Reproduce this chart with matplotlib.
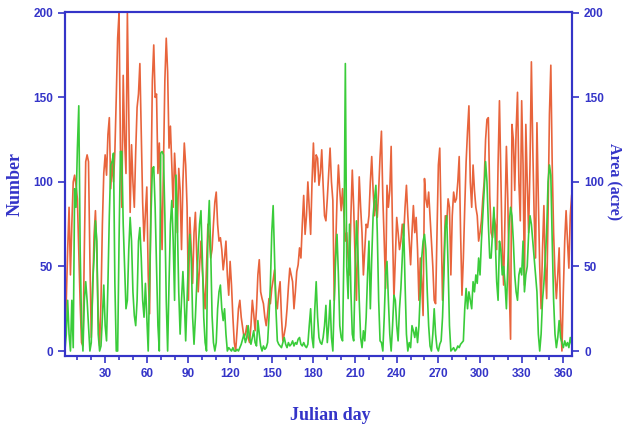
"""
Daily fire counts and burned area by Julian day.
"""

import matplotlib

matplotlib.use("Agg")
import matplotlib.pyplot as plt
from matplotlib.ticker import MultipleLocator

AXIS_BLUE = "#3434c8"
ORANGE = "#e8643c"
GREEN = "#3acc3a"

# one value per Julian day
NUMBER = [
    5, 30, 60, 85, 45, 75, 100, 104, 98, 90,
    60, 28, 5, 3, 60, 112, 116, 112, 55, 8,
    35, 68, 83, 58, 20, 3, 30, 75, 105, 116,
    104, 128, 138, 96, 112, 100, 118, 150, 185, 200,
    120, 85, 163, 125, 105, 200, 140, 82, 122, 100,
    85, 118, 144, 152, 170, 130, 88, 65, 82, 97,
    45, 22, 95, 160, 181, 150, 152, 105, 123, 90,
    60, 110, 160, 185, 165, 120, 133, 110, 85, 117,
    100, 70, 108, 95, 60, 100, 123, 110, 85, 30,
    79, 60, 40, 70, 82, 55, 35, 50, 65, 48,
    35, 25, 50, 75, 67, 55, 60, 75, 88, 94,
    75, 65, 67, 60, 48, 55, 65, 45, 33, 53,
    39, 20, 5, 0, 12, 25, 30, 20, 14, 8,
    10, 15, 8, 5, 15, 30, 22, 12, 25, 45,
    54, 35, 31, 28, 20, 15, 22, 31, 28, 37,
    42, 48, 30, 25, 35, 41, 20, 6, 10, 15,
    25, 38, 49, 45, 41, 25, 35, 47, 51, 61,
    55, 75, 92, 69, 80, 100, 85, 69, 100, 123,
    100, 116, 114, 98, 105, 119, 98, 80, 77, 90,
    105, 120, 100, 89, 30, 60, 90, 110, 95, 83,
    96, 80, 65, 70, 55, 45, 80, 107, 85, 55,
    30, 70, 103, 85, 70, 45, 60, 75, 73, 80,
    100, 115, 95, 80, 89, 79, 95, 115, 130, 90,
    65, 37, 98, 85, 95, 121, 70, 31, 55, 79,
    70, 60, 65, 75, 68, 85, 98, 80, 65, 51,
    70, 86, 70, 79, 60, 30, 55, 40, 21, 102,
    90, 85, 94, 80, 65, 50, 30, 28, 70, 110,
    120, 75, 30, 55, 80, 75, 90, 85, 45, 80,
    94, 88, 90, 100, 115, 70, 33, 55, 85, 112,
    130, 145, 100, 85, 110, 95, 85, 80, 65, 70,
    77, 90, 100, 125, 137, 138, 92, 70, 67, 80,
    75, 60, 110, 148, 105, 60, 39, 80, 121, 90,
    40, 7, 134, 125, 95, 130, 153, 100, 77, 148,
    110, 39, 134, 100, 70, 110, 171, 120, 80, 55,
    135, 90, 50, 25, 60, 86, 50, 31, 80, 140,
    169, 110, 70, 45, 31, 45, 61, 20, 0, 35,
    65, 83, 65, 49, 80, 92,
]

AREA = [
    0, 10, 30, 10, 0, 30, 2, 96, 85, 120,
    145, 60, 15, 0, 30, 41, 30, 15, 0, 5,
    40, 55, 77, 65, 10, 0, 3, 20, 39, 15,
    6, 40, 80, 110, 112, 117, 40, 0, 0, 65,
    118, 118, 75, 49, 25, 30, 60, 79, 65, 35,
    21, 15, 30, 65, 73, 55, 30, 20, 40, 20,
    0, 40, 80, 108, 109, 85, 49, 15, 0, 117,
    118, 116, 80, 30, 0, 40, 75, 89, 65, 30,
    104, 75, 35, 10, 30, 47, 30, 6, 30, 55,
    69, 55, 20, 4, 20, 40, 60, 75, 83, 55,
    20, 5, 0, 70, 89, 60, 21, 5, 0, 5,
    25, 35, 39, 25, 18, 25, 10, 0, 2, 1,
    0, 2, 0, 0, 1, 0, 2, 4, 7, 10,
    5, 8, 15, 8, 4, 8, 12, 5, 3, 18,
    10, 3, 0, 3, 1, 2, 5, 20, 39, 70,
    86, 55, 25, 6, 4, 3, 2, 5, 8, 4,
    2, 5, 3, 4, 6, 3, 5, 4, 7, 8,
    4, 3, 5, 3, 2, 4, 15, 25, 8, 2,
    25, 41, 20, 8, 5, 4, 8, 15, 27, 5,
    15, 30, 8, 0, 30, 55, 69, 45, 15, 8,
    6, 60, 170, 50, 31, 75, 35, 10, 6, 45,
    77, 60, 30, 8, 2, 12, 6, 20, 45, 65,
    25, 55, 80, 90, 98, 70, 30, 6, 5, 0,
    20, 45, 53, 30, 10, 0, 15, 33, 30, 15,
    6, 25, 37, 55, 75, 40, 10, 0, 5, 2,
    15, 12, 8, 14, 5, 15, 35, 55, 65, 69,
    60, 35, 15, 3, 0, 10, 25, 10, 2, 0,
    4, 6, 20, 45, 73, 80, 50, 15, 0, 1,
    2, 0, 1, 3, 2, 4, 5, 6, 25, 37,
    25, 35, 30, 25, 41, 35, 45, 40, 55, 45,
    65, 80, 95, 112, 100, 75, 55, 55, 70, 85,
    65, 41, 30, 65, 60, 45, 50, 40, 25, 50,
    75, 85, 80, 65, 45, 35, 30, 45, 49, 45,
    65, 35, 45, 50, 69, 80, 75, 65, 55, 45,
    35, 10, 0, 10, 30, 40, 55, 70, 100, 110,
    104, 65, 30, 10, 2, 8, 18, 8, 5, 2,
    6, 3, 5, 2, 8, 4,
]

DAYS = list(range(1, len(NUMBER) + 1))
X_TICKS = list(range(30, 361, 30))
Y_TICKS = [0, 50, 100, 150, 200]


def style_axis(ax, side):
    for spine in ax.spines.values():
        spine.set_color(AXIS_BLUE)
        spine.set_linewidth(1.5)
    ax.tick_params(axis="both", which="both", direction="out",
                   colors=AXIS_BLUE, width=1.2)
    ax.tick_params(axis="both", which="major", length=5)
    ax.tick_params(axis="both", which="minor", length=3)
    ax.tick_params(axis="y", labelleft=(side == "left"),
                   left=(side == "left"), right=(side == "right"),
                   labelright=(side == "right"))
    for lab in ax.get_xticklabels() + ax.get_yticklabels():
        lab.set_fontweight("bold")
        lab.set_fontsize(8.5)
        lab.set_color(AXIS_BLUE)


def main():
    plt.rcParams["font.family"] = ["Liberation Sans", "DejaVu Sans"]
    fig = plt.figure(figsize=(6.24, 4.28), dpi=100)
    ax = fig.add_axes([0.104, 0.168, 0.813, 0.804])

    ax.plot(DAYS, NUMBER, color=ORANGE, lw=1.2)
    ax.set_xlim(1, 366.4)
    ax.set_ylim(-3, 200.5)
    ax.set_xticks(X_TICKS)
    ax.xaxis.set_minor_locator(MultipleLocator(10))
    ax.set_yticks(Y_TICKS)

    ax2 = ax.twinx()
    ax2.plot(DAYS, AREA, color=GREEN, lw=1.2)
    ax2.set_ylim(-3, 200.5)
    ax2.set_yticks(Y_TICKS)

    style_axis(ax, "left")
    style_axis(ax2, "right")
    ax.tick_params(axis="y", right=False)
    ax2.tick_params(axis="x", bottom=False, labelbottom=False)

    label_kw = dict(color=AXIS_BLUE, fontweight="bold", fontsize=13,
                    family=["Liberation Serif", "DejaVu Serif"])
    fig.text(0.53, 0.03, "Julian day", ha="center", va="center", **label_kw)
    fig.text(0.025, 0.57, "Number", rotation=90, ha="center", va="center",
             **label_kw)
    label_kw["fontsize"] = 11.5
    fig.text(0.984, 0.575, "Area (acre)", rotation=270, ha="center",
             va="center", **label_kw)

    fig.savefig("out.png", dpi=100)
    plt.close(fig)


if __name__ == "__main__":
    main()
